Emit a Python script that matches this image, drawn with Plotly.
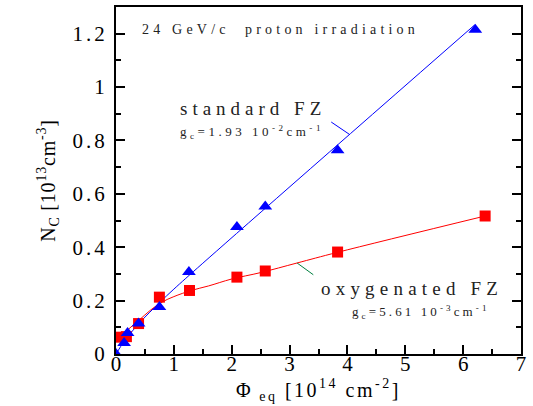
import plotly.graph_objects as go

# --- data ---
std_x = [0.0, 0.14, 0.2, 0.39, 0.75, 1.26, 2.09, 2.58, 3.83, 6.21]
std_y = [0.0, 0.041, 0.079, 0.114, 0.176, 0.307, 0.476, 0.553, 0.763, 1.215]

oxy_x = [0.08, 0.18, 0.39, 0.75, 1.27, 2.09, 2.58, 3.83, 6.38]
oxy_y = [0.063, 0.065, 0.114, 0.213, 0.238, 0.288, 0.311, 0.382, 0.517]

std_fit_x = [0.0, 0.15, 0.4, 0.75, 1.0, 1.5, 6.2]
std_fit_y = [0.0, 0.05, 0.115, 0.192, 0.243, 0.34, 1.233]

oxy_fit_x = [0.05, 0.2, 0.4, 0.6, 0.8, 1.0, 1.3, 1.6, 2.0, 2.5, 3.13, 3.83, 6.38]
oxy_fit_y = [0.055, 0.09, 0.127, 0.165, 0.195, 0.215, 0.238, 0.255, 0.281, 0.305, 0.341, 0.381, 0.517]

std_pointer_x = [3.72, 4.04]
std_pointer_y = [0.869, 0.822]
oxy_pointer_x = [3.13, 3.41]
oxy_pointer_y = [0.341, 0.297]

x_tickvals = [0, 1, 2, 3, 4, 5, 6, 7]
x_ticktext = ["0", "1", "2", "3", "4", "5", "6", "7"]
y_tickvals = [0, 0.2, 0.4, 0.6, 0.8, 1.0, 1.2]
y_ticktext = ["0", "0.2", "0.4", "0.6", "0.8", "1", "1.2"]

FONT = "Liberation Serif"

fig = go.Figure()
fig.add_trace(go.Scatter(x=std_fit_x, y=std_fit_y, mode="lines", line=dict(color="#0000ff", width=1, shape="spline"), showlegend=False))
fig.add_trace(go.Scatter(x=oxy_fit_x, y=oxy_fit_y, mode="lines", line=dict(color="#ff0000", width=1, shape="spline"), showlegend=False))
fig.add_trace(go.Scatter(x=oxy_x, y=oxy_y, mode="markers", marker=dict(symbol="square", size=11, color="#ff0000"), showlegend=False))
fig.add_trace(go.Scatter(x=std_x, y=std_y, mode="markers", marker=dict(symbol="triangle-up", size=12, color="#0000ff"), showlegend=False))

fig.add_shape(type="line", x0=std_pointer_x[0], y0=std_pointer_y[0], x1=std_pointer_x[1], y1=std_pointer_y[1], line=dict(color="#0000ff", width=1))
fig.add_shape(type="line", x0=oxy_pointer_x[0], y0=oxy_pointer_y[0], x1=oxy_pointer_x[1], y1=oxy_pointer_y[1], line=dict(color="#008040", width=1))

def sp(t, ls):
    return f'<span style="letter-spacing:{ls}px">{t}</span>'

anns = [
    (0.415, 1.214, sp("24 GeV/c  proton irradiation", 4.2), 14),
    (1.07, 0.921, sp("standard FZ", 5), 19),
    (1.07, 0.833, sp("g<sub>c</sub>=1.93 10<sup>-2</sup>cm<sup>-1</sup>", 3.5), 13),
    (3.51, 0.246, sp("oxygenated FZ", 5.2), 19),
    (4.05, 0.156, sp("g<sub>c</sub>=5.61 10<sup>-3</sup>cm<sup>-1</sup>", 3.1), 13),
]
for x, y, t, s in anns:
    fig.add_annotation(x=x, y=y, text=t, showarrow=False, xanchor="left", yanchor="middle",
                       font=dict(family=FONT, size=s, color="#222222"))

axis_common = dict(
    showgrid=False, zeroline=False, showline=True, linecolor="black", linewidth=2,
    ticks="inside", ticklen=9, tickwidth=1.5, tickcolor="black",
    tickfont=dict(family=FONT, size=21, color="black"),
)
fig.update_xaxes(range=[0, 7], tickvals=x_tickvals, ticktext=x_ticktext, mirror=True,
                 minor=dict(ticks="inside", ticklen=5, dtick=0.5, tickwidth=1.5, tickcolor="black"),
                 title=dict(text=sp("Φ<sub> eq</sub> [10<sup>14</sup> cm<sup>-2</sup>]", 2.5), font=dict(family=FONT, size=20), standoff=6),
                 ticklabelstandoff=-10,
                 **axis_common)
fig.update_yaxes(range=[0, 1.3], tickvals=y_tickvals, ticktext=[sp(t, 3) for t in y_ticktext], mirror="allticks",
                 minor=dict(ticks="inside", ticklen=5, dtick=0.1, tickwidth=1.5, tickcolor="black"),
                 title=dict(text=sp("N<sub>C</sub> [10<sup>13</sup>cm<sup>-3</sup>]", 0.8), font=dict(family=FONT, size=20), standoff=12),
                 ticklabelstandoff=2,
                 **axis_common)

fig.update_layout(
    width=533, height=406,
    margin=dict(l=116, r=12, t=7, b=52, autoexpand=False),
    paper_bgcolor="white", plot_bgcolor="white",
    font=dict(family=FONT, color="black"),
)
fig.write_html("out.html", config={"displayModeBar": False},
               post_script="document.body.style.margin='0';")
